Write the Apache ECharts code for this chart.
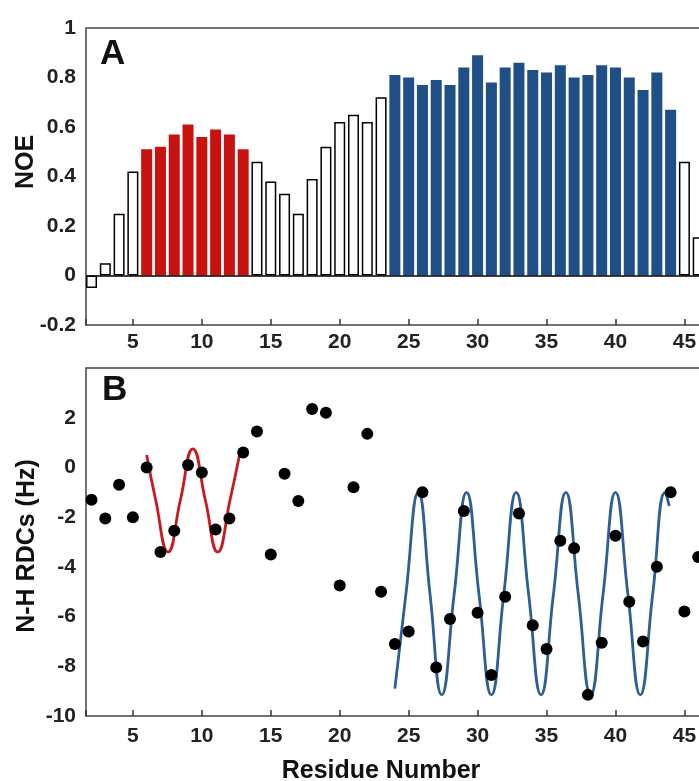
<!DOCTYPE html>
<html>
<head>
<meta charset="utf-8">
<script src="https://cdn.jsdelivr.net/npm/echarts@6/dist/echarts.min.js"></script>
<style>
    html, body { margin: 0; padding: 0; background: #fff; }
    #chart { width: 699px; height: 781px; }
</style>
</head>
<body>
<div id="chart"></div>
<script>
    // residue numbers shown in both panels
    var residues = [2, 3, 4, 5, 6, 7, 8, 9, 10, 11, 12, 13, 14, 15, 16, 17, 18, 19, 20, 21, 22, 23, 24,
        25, 26, 27, 28, 29, 30, 31, 32, 33, 34, 35, 36, 37, 38, 39, 40, 41, 42, 43, 44, 45, 46]

    // panel A: heteronuclear NOE
    var noe = [-0.05, 0.05, 0.25, 0.42, 0.51, 0.52, 0.57, 0.61, 0.56, 0.59, 0.57, 0.51, 0.46, 0.38, 0.33,
        0.25, 0.39, 0.52, 0.62, 0.65, 0.62, 0.72, 0.81, 0.80, 0.77, 0.79, 0.77, 0.84, 0.89, 0.78,
        0.84, 0.86, 0.83, 0.82, 0.85, 0.80, 0.81, 0.85, 0.84, 0.80, 0.75, 0.82, 0.67, 0.46, 0.155]

    // helix ranges (coloured bars)
    var helix1 = [6, 13]
    var helix2 = [24, 44]

    // panel B: N-H residual dipolar couplings
    var rdc = [-1.3, -2.05, -0.7, -2.0, 0.0, -3.4, -2.55, 0.1, -0.2, -2.5, -2.05, 0.6, 1.45, -3.5, -0.25,
        -1.35, 2.35, 2.2, -4.75, -0.8, 1.35, -5.0, -7.1, -6.6, -1.0, -8.05, -6.1, -1.75, -5.85, -8.35,
        -5.2, -1.85, -6.35, -7.3, -2.95, -3.25, -9.15, -7.05, -2.75, -5.4, -7.0, -4.0, -1.0, -5.8, -3.6]

    var fitRedX = [6.0, 6.65, 7.55, 8.45, 9.35, 10.25, 11.15, 12.05, 12.75]
    var fitRedY = [0.5, -1.3, -3.4, -1.3, 0.75, -1.3, -3.4, -1.3, 0.55]
    var fitBlueX = [24.0, 24.8, 25.7, 26.55, 27.4, 28.3, 29.2, 30.1, 31.0, 31.9, 32.8, 33.7, 34.6,
        35.5, 36.4, 37.3, 38.2, 39.1, 40.0, 40.9, 41.8, 42.7, 43.6, 43.9]
    var fitBlueY = [-8.9, -5.1, -1.0, -5.1, -9.15, -5.1, -1.0, -5.1, -9.15, -5.1, -1.0, -5.1, -9.15,
        -5.1, -1.0, -5.1, -9.15, -5.1, -1.0, -5.1, -9.15, -5.1, -1.0, -1.55]

    var noeTicks = [-0.2, 0, 0.2, 0.4, 0.6, 0.8, 1]
    var rdcTicks = [-10, -8, -6, -4, -2, 0, 2]

    var FONT = 'Liberation Sans, Arial, sans-serif'
    var RED = '#c8120f'
    var BLUE = '#1f4f86'

    var myChart = echarts.init(document.getElementById('chart'))

    var barData = residues.map(function (r, i) {
        var style = { color: '#fff', borderColor: '#000', borderWidth: 1.5 }
        if (r >= helix1[0] && r <= helix1[1]) style = { color: RED }
        if (r >= helix2[0] && r <= helix2[1]) style = { color: BLUE }
        return { value: [r, noe[i]], itemStyle: style }
    })
    var rdcData = residues.map(function (r, i) { return [r, rdc[i]] })
    var redFit = fitRedX.map(function (x, i) { return [x, fitRedY[i]] })
    var blueFit = fitBlueX.map(function (x, i) { return [x, fitBlueY[i]] })

    function xAxisFor (gridIndex, margin) {
        return {
            type: 'value',
            gridIndex: gridIndex,
            min: 1.6,
            max: 47,
            splitNumber: 9,
            axisLine: { show: false, onZero: false },
            axisTick: { show: true, inside: true, length: 6, lineStyle: { color: '#333', width: 1.5 } },
            splitLine: { show: false },
            axisLabel: {
                margin: margin,
                fontFamily: FONT,
                fontWeight: 'bold',
                fontSize: 21,
                color: '#222',
                formatter: function (v) { return v % 5 === 0 ? String(v) : '' }
            }
        }
    }

    function yAxisFor (gridIndex, ticks, interval) {
        return {
            type: 'value',
            gridIndex: gridIndex,
            min: ticks[0],
            max: gridIndex === 0 ? ticks[ticks.length - 1] : ticks[ticks.length - 1] + interval,
            interval: interval,
            axisLine: { show: false },
            axisTick: { show: false },
            splitLine: { show: false },
            axisLabel: {
                margin: 10,
                fontFamily: FONT,
                fontWeight: 'bold',
                fontSize: 21,
                color: '#222',
                formatter: function (v) {
                    var n = Number(v.toFixed(1))
                    return ticks.indexOf(n) >= 0 ? String(n) : ''
                }
            }
        }
    }

    var option = {
        animation: false,
        backgroundColor: '#fff',
        grid: [
            {
                left: 86, top: 28, height: 297, right: -13, outerBoundsMode: 'none',
                show: true, borderColor: '#444', borderWidth: 1.5
            },
            {
                left: 86, top: 368, height: 348, right: -13, outerBoundsMode: 'none',
                show: true, borderColor: '#444', borderWidth: 1.5
            }
        ],
        xAxis: [xAxisFor(0, 7), xAxisFor(1, 10)],
        yAxis: [yAxisFor(0, noeTicks, 0.2), yAxisFor(1, rdcTicks, 2)],
        graphic: [
            { type: 'text', x: 100, y: 37, style: { text: 'A', font: 'bold 35px ' + FONT, fill: '#111' } },
            { type: 'text', x: 102, y: 373, style: { text: 'B', font: 'bold 35px ' + FONT, fill: '#111' } },
            {
                type: 'text', x: 26, y: 162, rotation: Math.PI / 2,
                style: { text: 'NOE', font: 'bold 25px ' + FONT, fill: '#111', align: 'center', verticalAlign: 'middle' }
            },
            {
                type: 'text', x: 27, y: 546, rotation: Math.PI / 2,
                style: { text: 'N-H RDCs (Hz)', font: 'bold 25px ' + FONT, fill: '#111', align: 'center', verticalAlign: 'middle' }
            },
            {
                type: 'text', x: 381, y: 771,
                style: { text: 'Residue Number', font: 'bold 25px ' + FONT, fill: '#111', align: 'center', verticalAlign: 'middle' }
            }
        ],
        series: [
            {
                type: 'bar',
                xAxisIndex: 0,
                yAxisIndex: 0,
                barWidth: 11,
                data: barData,
                markLine: {
                    silent: true,
                    symbol: 'none',
                    label: { show: false },
                    lineStyle: { color: '#000', width: 1.5, type: 'solid' },
                    data: [{ yAxis: 0 }]
                }
            },
            {
                type: 'line',
                xAxisIndex: 1,
                yAxisIndex: 1,
                data: redFit,
                smooth: 0.5,
                showSymbol: false,
                lineStyle: { color: '#c8191c', width: 2.8 }
            },
            {
                type: 'line',
                xAxisIndex: 1,
                yAxisIndex: 1,
                data: blueFit,
                smooth: 0.5,
                showSymbol: false,
                lineStyle: { color: '#2d5e95', width: 2.8 }
            },
            {
                type: 'scatter',
                xAxisIndex: 1,
                yAxisIndex: 1,
                symbolSize: 12,
                itemStyle: { color: '#000', opacity: 1 },
                data: rdcData,
                z: 5
            }
        ]
    }
    myChart.setOption(option)
</script>
</body>
</html>
